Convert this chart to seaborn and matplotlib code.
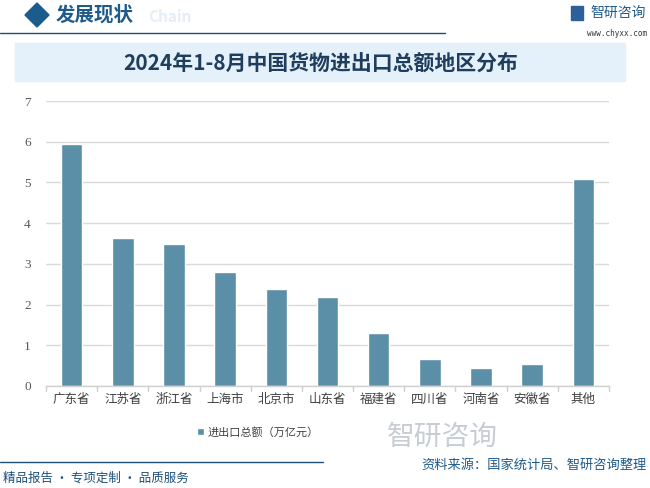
import matplotlib
matplotlib.use("Agg")
import matplotlib.pyplot as plt
import seaborn as sns
import pandas as pd
from matplotlib.patches import Rectangle, Polygon
from matplotlib.lines import Line2D

regions = ["广东省", "江苏省", "浙江省", "上海市", "北京市", "山东省", "福建省", "四川省", "河南省", "安徽省", "其他"]
values = [5.95, 3.64, 3.49, 2.80, 2.38, 2.19, 1.30, 0.66, 0.44, 0.54, 5.09]
series_name = "进出口总额（万亿元）"
yticks = [0, 1, 2, 3, 4, 5, 6, 7]

sns.set_theme(style="white")
plt.rcParams['font.family'] = ['Noto Sans CJK SC', 'DejaVu Sans']

df = pd.DataFrame({"region": regions, "value": values, "series": series_name})

fig = plt.figure(figsize=(6.5, 4.88), dpi=100)
W, H = 650, 488
ax = fig.add_axes([46/W, 1-386/H, (609-46)/W, (386-101)/H])

bar_color = "#5B8FA8"
sns.barplot(data=df, x="region", y="value", hue="series", palette=[bar_color],
            width=0.42, dodge=False, saturation=1, ax=ax, legend=True)

ax.set_ylim(0, 7)
ax.set_yticks(yticks)
ax.set_yticklabels([str(t) for t in yticks], fontsize=9.5, color="#595959", family=["Liberation Serif"])
ax.set_xlim(-0.5, len(regions)-0.5)
ax.tick_params(axis='x', length=0, pad=5, labelsize=9, labelcolor="#404040")
ax.tick_params(axis='y', length=0, pad=11)
ax.set_xlabel("")
ax.set_ylabel("")
ax.yaxis.grid(True, color="#D9D9D9", linewidth=1)
ax.set_axisbelow(True)
for s in ["top", "right", "left"]:
    ax.spines[s].set_visible(False)
ax.spines["bottom"].set_color("#D0D0D0")
ax.spines["bottom"].set_linewidth(1)
for i in range(len(regions)+1):
    ax.plot([i-0.5, i-0.5], [0, -0.12], color="#D0D0D0", lw=1, clip_on=False, transform=ax.transData)

sns.move_legend(ax, "center", bbox_to_anchor=(258/W, 1-432/H), bbox_transform=fig.transFigure,
                frameon=False, fontsize=8, title=None, handlelength=0.6, handleheight=0.6,
                handletextpad=0.3)
for t in ax.get_legend().get_texts():
    t.set_color("#404040")

# Header
dark = "#1E5A8A"
fig.patches.append(Polygon([[25/W, 1-15/H], [37/W, 1-3/H], [49/W, 1-15/H], [37/W, 1-27/H]],
                           closed=True, transform=fig.transFigure, color="#1C5C8C"))
fig.text(56/W, 1-15/H, "发展现状", fontsize=14, fontweight="bold", color=dark, va="center", ha="left")
fig.text(148/W, 1-17/H, "Chain", fontsize=11, fontweight="bold", color="#E3EEF6", va="center", ha="left", zorder=0)
fig.lines.append(Line2D([0, 445/W], [1-33/H, 1-33/H], transform=fig.transFigure, color="#1E4F7A", lw=1))
fig.text(590/W, 1-13/H, "智研咨询", fontsize=10, color=dark, va="center", ha="left")
fig.patches.append(Rectangle((571/W, 1-20/H), 12/W, 14/H, transform=fig.transFigure, color="#2D5F9A"))
fig.text(647/W, 1-33/H, "www.chyxx.com", fontsize=5.5, color="#333333", va="center", ha="right", family=["DejaVu Sans Mono"])

# Title band
fig.patches.append(Rectangle((15/W, 1-81/H), (625-15)/W, (81-43)/H, transform=fig.transFigure,
                             color="#E5F1FA", zorder=0))
fig.text(321/W, 1-63/H, "2024年1-8月中国货物进出口总额地区分布", fontsize=15, fontweight="bold",
         color="#1F3D5C", ha="center", va="center")

# Bottom
fig.text(442/W, 1-437/H, "智研咨询", fontsize=20, color="#C8CDD3", ha="center", va="center")
fig.lines.append(Line2D([0, 323/W], [1-462/H, 1-462/H], transform=fig.transFigure, color="#1E4F7A", lw=1))
fig.text(3/W, 1-478/H, "精品报告 · 专项定制 · 品质服务", fontsize=9, color="#1E4F7A", ha="left", va="center")
fig.text(647/W, 1-465/H, "资料来源：国家统计局、智研咨询整理", fontsize=9.5, color=dark, ha="right", va="center")

fig.savefig("out.png", dpi=100)
